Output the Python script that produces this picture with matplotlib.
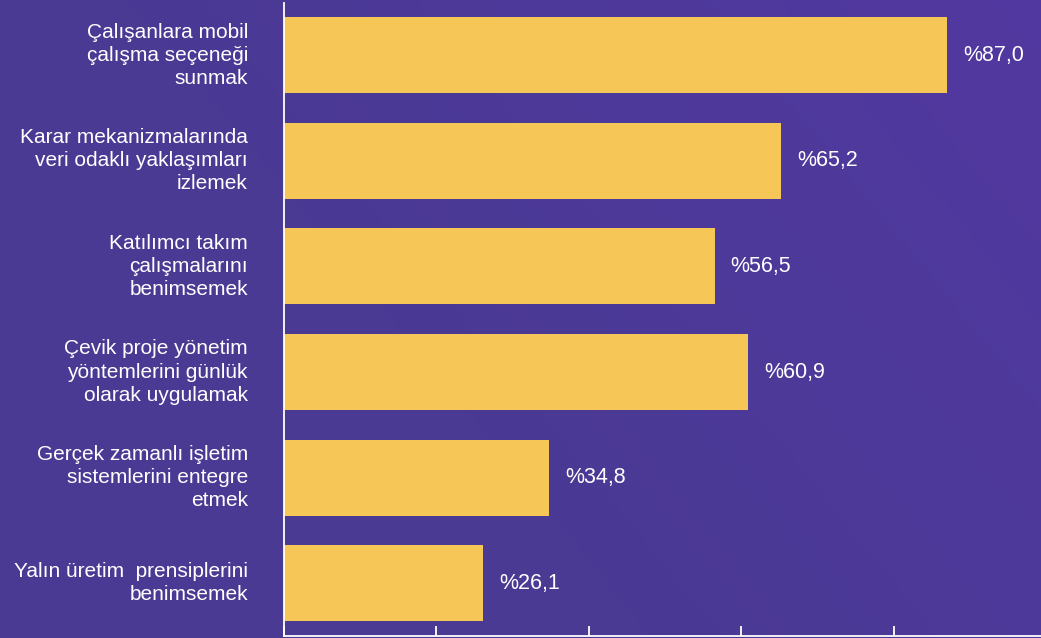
import matplotlib.pyplot as plt
import numpy as np

labels = [
    "Çalışanlara mobil\nçalışma seçeneği\nsunmak",
    "Karar mekanizmalarında\nveri odaklı yaklaşımları\nizlemek",
    "Katılımcı takım\nçalışmalarını\nbenimsemek",
    "Çevik proje yönetim\nyöntemlerini günlük\nolarak uygulamak",
    "Gerçek zamanlı işletim\nsistemlerini entegre\netmek",
    "Yalın üretim  prensiplerini\nbenimsemek",
]
values = [87.0, 65.2, 56.5, 60.9, 34.8, 26.1]
xticks = [0, 20, 40, 60, 80]

bg = "#4a3a94"
barColor = "#f6c757"

plt.rcParams["font.family"] = ["Liberation Sans", "DejaVu Sans"]

fig = plt.figure(figsize=(10.41, 6.38), dpi=100, facecolor=bg)

# soft gradient behind everything
bgAx = fig.add_axes([0, 0, 1, 1], zorder=-1)
gx = np.linspace(0, 1, 200)
gy = np.linspace(0, 1, 120)
GX, GY = np.meshgrid(gx, gy)
grad = np.clip(GX * 0.8 + (1 - GY) * 0.4 - 0.5, 0, 1)
c0 = np.array([0x4a, 0x3a, 0x94]) / 255
c1 = np.array([0x55, 0x38, 0xa6]) / 255
img = c0[None, None, :] * (1 - grad[..., None]) + c1[None, None, :] * grad[..., None]
bgAx.imshow(img, aspect="auto", extent=[0, 1, 0, 1])
bgAx.axis("off")

W, H = 1041, 638
left = 284 / W
bottom = 2 / H
ax = fig.add_axes([left, bottom, 762 / W, 633.5 / H])
ax.set_facecolor("none")

y = np.arange(len(values))
ax.barh(y, values, height=0.72, color=barColor)
ax.set_xlim(0, 100)
ax.set_ylim(len(values) - 0.5, -0.5)

for i, (lab, v) in enumerate(zip(labels, values)):
    ax.annotate(lab, xy=(0, i), xytext=(-36, 0), textcoords="offset pixels",
                ha="right", va="center", multialignment="right",
                color="white", fontsize=15, linespacing=1.27,
                annotation_clip=False)
    ax.annotate("%" + f"{v:.1f}".replace(".", ","), xy=(v, i), xytext=(16, 0),
                textcoords="offset pixels", ha="left", va="center",
                color="white", fontsize=15.5, annotation_clip=False)

ax.set_yticks([])
ax.set_xticks(xticks)
ax.set_xticklabels([])
ax.tick_params(axis="x", direction="in", length=7, width=1.3, color="white")
for s in ["top", "right"]:
    ax.spines[s].set_visible(False)
for s in ["left", "bottom"]:
    ax.spines[s].set_color("white")
    ax.spines[s].set_linewidth(1.3)

plt.savefig("out.png", dpi=100, facecolor=bg)
